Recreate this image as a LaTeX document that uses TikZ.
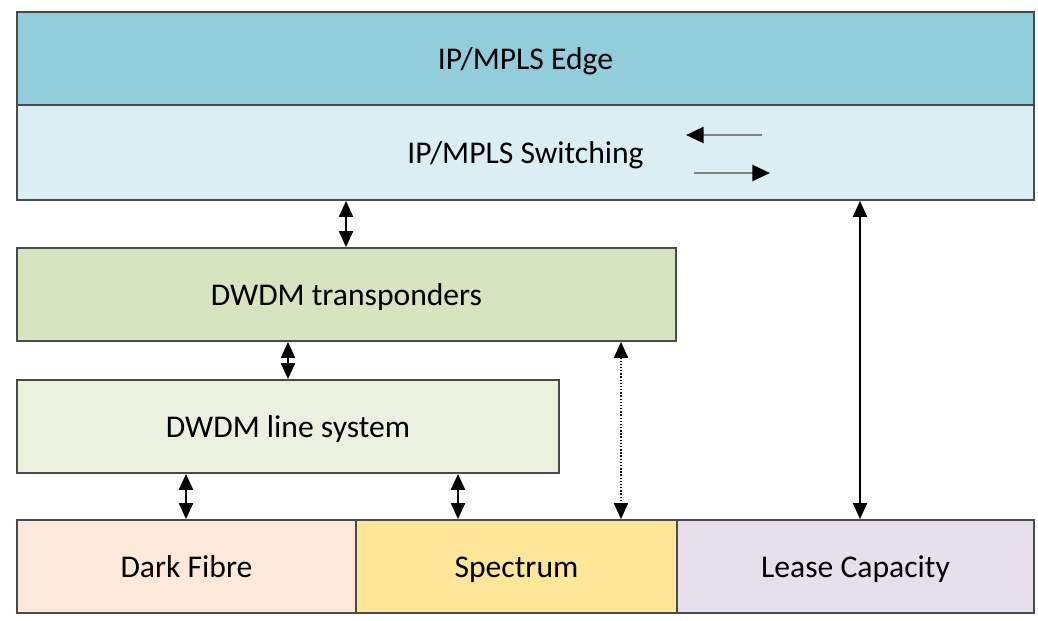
\documentclass[tikz,border=0pt]{standalone}
\usepackage{fontspec}
\setmainfont{Carlito}
\usetikzlibrary{arrows.meta}
\definecolor{edgecol}{HTML}{92CDDC}
\definecolor{switchcol}{HTML}{DAEEF3}
\definecolor{transpcol}{HTML}{D7E4BD}
\definecolor{linecol}{HTML}{EBF1DE}
\definecolor{fibrecol}{HTML}{FDE9D9}
\definecolor{speccol}{HTML}{FFE699}
\definecolor{leasecol}{HTML}{E6E0EC}
\definecolor{bordercol}{HTML}{4A4A4A}
\tikzset{
  layer/.style={rectangle,draw=bordercol,line width=1.1pt,inner sep=0pt,minimum height=1.86cm,
    text height=15pt,text depth=3pt,font=\fontsize{18}{22}\selectfont},
  link/.style={line width=0.8pt,<->},
  >={Triangle[length=9pt,width=8pt]}
}

\begin{document}
\begin{tikzpicture}[x=0.02cm,y=-0.02cm]
\useasboundingbox (0,0) rectangle (1038,620);
\path (525.5,58.5) node(edge)[layer,fill=edgecol,minimum width=20.34cm]{IP/MPLS Edge}
(525.5,152.5) node(sw)[layer,fill=switchcol,minimum width=20.34cm,minimum height=1.9cm]{IP/MPLS Switching}
(346.5,294.5) node(tr)[layer,fill=transpcol,minimum width=13.18cm]{DWDM transponders}
(288,426.5) node(ls)[layer,fill=linecol,minimum width=10.84cm]{DWDM line system}
(186.5,566.5) node(df)[layer,fill=fibrecol,minimum width=6.78cm]{Dark Fibre}
(516.5,566.5) node(sp)[layer,fill=speccol,minimum width=6.42cm]{Spectrum}
(855.5,566.5) node(lc)[layer,fill=leasecol,minimum width=7.14cm]{Lease Capacity};
%the two small arrows in the switching layer
\coordinate (l1) at (762,135); \coordinate (l2) at (686,135);
\coordinate (r1) at (694,173); \coordinate (r2) at (770,173);
\draw[line width=1.6pt,gray,-{Triangle[length=10pt,width=9pt,color=black]}](l1)--(l2);
\draw[line width=1.6pt,gray,-{Triangle[length=10pt,width=9pt,color=black]}](r1)--(r2);
\coordinate (x1) at (346,0); \coordinate (x2) at (288,0);
\coordinate (x3) at (186,0); \coordinate (x4) at (458,0);
\coordinate (x5) at (621,0); \coordinate (x6) at (860,0);
\draw[link](sw.south-|x1)--(tr.north-|x1);
\draw[link](tr.south-|x2)--(ls.north-|x2);
\draw[link](ls.south-|x3)--(df.north-|x3);
\draw[link](ls.south-|x4)--(sp.north-|x4);
\draw[link,densely dotted](tr.south-|x5)--(sp.north-|x5);
\draw[link](sw.south-|x6)--(lc.north-|x6);
\end{tikzpicture}
\end{document}
